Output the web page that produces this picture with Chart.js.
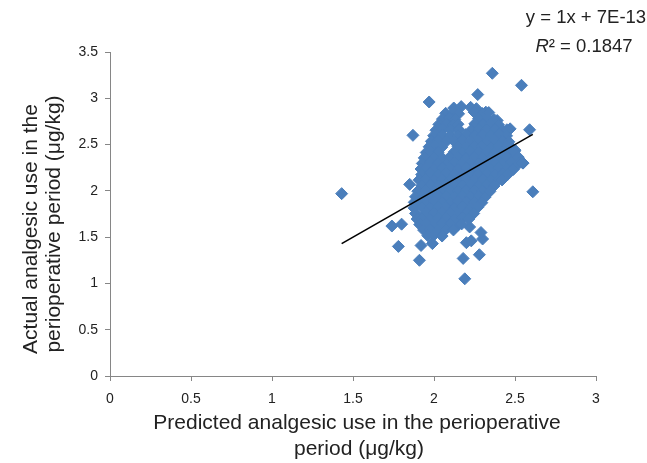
<!DOCTYPE html>
<html>
<head>
<meta charset="utf-8">
<script src="https://cdn.jsdelivr.net/npm/chart.js@4/dist/chart.umd.min.js"></script>
<style>
  html, body { margin: 0; padding: 0; background: #fff; }
  #c { display: block; }
</style>
</head>
<body>
<canvas id="c" width="647" height="463"></canvas>
<script>
// ---------- Datos ----------
// ejes
var xTicks = [0, 0.5, 1, 1.5, 2, 2.5, 3];
var yTicks = [0, 0.5, 1, 1.5, 2, 2.5, 3, 3.5];

// puntos aislados (predicho, real)
var outlierPred = [2.36, 2.54, 2.27, 1.97, 1.87, 1.43, 2.61, 2.59, 2.19, 1.91, 1.78, 1.74, 1.80, 1.92, 1.99, 2.18, 2.28, 2.30, 2.20, 2.23, 2.22, 2.29, 1.85, 1.91, 2.50, 2.47, 2.39, 2.32, 2.55];
var outlierAct  = [3.27, 3.14, 3.04, 2.96, 2.60, 1.97, 1.99, 2.66, 1.05, 1.25, 1.40, 1.62, 1.64, 1.41, 1.43, 1.27, 1.31, 1.48, 1.44, 1.46, 1.61, 1.55, 2.07, 2.12, 2.44, 2.67, 2.76, 2.85, 2.30];

// nube central, parte alta [predicho, real]
var nubeAlta = [
  [2.122,2.895],[2.168,2.91],[2.226,2.902],[2.262,2.888],
  [2.072,2.838],[2.118,2.846],[2.152,2.832],[2.248,2.85],[2.30,2.835],[2.338,2.846],
  [2.052,2.775],[2.098,2.786],[2.128,2.772],[2.275,2.78],[2.327,2.776],[2.372,2.768],
  [2.03,2.718],[2.078,2.726],[2.122,2.712],[2.148,2.72],[2.252,2.724],[2.30,2.716],[2.35,2.722],[2.398,2.714],
  [2.012,2.655],[2.054,2.666],[2.103,2.658],[2.152,2.664],[2.228,2.652],[2.276,2.662],[2.324,2.656],[2.377,2.664],[2.424,2.652],[2.45,2.66],
  [1.998,2.596],[2.052,2.604],[2.10,2.592],[2.148,2.602],[2.196,2.608],[2.252,2.594],[2.30,2.602],[2.35,2.598],[2.402,2.606],[2.448,2.594],
  [1.984,2.535],[2.024,2.546],[2.078,2.538],[2.126,2.532],[2.174,2.546],[2.226,2.538],[2.273,2.542],[2.326,2.532],[2.375,2.546],[2.424,2.536],[2.462,2.53]
];

// nube central, parte media
var nubeMedia = [
  [1.97,2.476],[2.002,2.484],[2.048,2.472],[2.148,2.482],[2.20,2.474],[2.25,2.486],[2.298,2.478],[2.352,2.472],[2.40,2.484],[2.45,2.478],[2.478,2.47],
  [1.952,2.414],[1.978,2.426],[2.026,2.418],[2.126,2.422],[2.174,2.41],[2.224,2.426],[2.276,2.416],[2.326,2.424],[2.373,2.412],[2.424,2.42],[2.476,2.414],[2.496,2.424],
  [1.94,2.356],[2.00,2.362],[2.052,2.352],[2.098,2.366],[2.15,2.358],[2.20,2.35],[2.248,2.364],[2.30,2.356],[2.352,2.362],[2.40,2.35],[2.45,2.36],[2.50,2.354],[2.52,2.364],
  [1.928,2.296],[1.976,2.304],[2.024,2.298],[2.077,2.292],[2.126,2.306],[2.174,2.296],[2.226,2.302],[2.276,2.294],[2.324,2.306],[2.377,2.298],[2.424,2.29],[2.476,2.304],[2.524,2.296],[2.548,2.30],
  [1.92,2.236],[1.952,2.244],[2.00,2.232],[2.05,2.246],[2.10,2.238],[2.148,2.23],[2.20,2.244],[2.25,2.236],[2.302,2.242],[2.35,2.232],[2.40,2.246],[2.448,2.238],[2.49,2.232],
  [1.924,2.176],[1.976,2.184],[2.026,2.172],[2.074,2.186],[2.126,2.178],[2.176,2.17],[2.224,2.184],[2.274,2.176],[2.326,2.182],[2.376,2.172],[2.424,2.186],[2.455,2.178],
  [1.91,2.116],[1.952,2.124],[2.00,2.112],[2.05,2.126],[2.10,2.118],[2.148,2.11],[2.20,2.124],[2.25,2.116],[2.30,2.122],[2.35,2.112],[2.40,2.124],[2.42,2.118]
];

// nube central, parte baja
var nubeBaja = [
  [1.924,2.056],[1.976,2.064],[2.026,2.052],[2.074,2.066],[2.126,2.058],[2.176,2.05],[2.224,2.064],[2.274,2.056],[2.326,2.062],[2.37,2.052],
  [1.90,1.996],[1.952,2.004],[2.00,1.992],[2.05,2.006],[2.10,1.998],[2.148,1.99],[2.20,2.004],[2.25,1.996],[2.30,2.002],[2.345,1.994],
  [1.886,1.936],[1.926,1.944],[1.976,1.932],[2.024,1.946],[2.076,1.938],[2.126,1.93],[2.174,1.944],[2.226,1.936],[2.276,1.942],[2.315,1.932],
  [1.878,1.876],[1.90,1.884],[1.952,1.872],[2.00,1.886],[2.05,1.878],[2.10,1.87],[2.148,1.884],[2.20,1.876],[2.25,1.882],[2.295,1.872],
  [1.876,1.816],[1.926,1.824],[1.974,1.812],[2.026,1.826],[2.076,1.818],[2.124,1.81],[2.176,1.824],[2.226,1.816],[2.27,1.822],
  [1.886,1.756],[1.952,1.764],[2.00,1.752],[2.05,1.766],[2.10,1.758],[2.148,1.75],[2.20,1.764],[2.245,1.756],
  [1.896,1.696],[1.926,1.704],[1.976,1.692],[2.026,1.706],[2.074,1.698],[2.126,1.69],[2.176,1.704],[2.215,1.696],
  [1.912,1.636],[1.952,1.644],[2.00,1.632],[2.05,1.646],[2.10,1.638],[2.148,1.63],[2.17,1.642],
  [1.936,1.576],[1.976,1.584],[2.026,1.572],[2.074,1.586],[2.12,1.578],
  [1.962,1.516],[2.00,1.524],[2.05,1.512]
];

// linea de tendencia: y = 1x + 7E-13 (extremos)
var trendPred = [1.43, 2.61];
var trendAct  = [1.43, 2.61];

var eqTexto = 'y = 1x + 7E-13';
var r2Valor = ' = 0.1847';
var tituloY = ['Actual analgesic use in the', 'perioperative period (\u03bcg/kg)'];
var tituloX = ['Predicted analgesic use in the perioperative', 'period (\u03bcg/kg)'];

// ---------- Armado ----------
var FUENTE = "'Liberation Sans', Arial, sans-serif";
var AZUL = '#4a7ebb';
var GRIS = '#868686';
var TEXTO = '#222';

var puntos = [];
for (var i = 0; i < outlierPred.length; i++) puntos.push({ x: outlierPred[i], y: outlierAct[i] });
[nubeAlta, nubeMedia, nubeBaja].forEach(function (arr) {
  arr.forEach(function (p) { puntos.push({ x: p[0], y: p[1] }); });
});
var tendencia = trendPred.map(function (v, i) { return { x: v, y: trendAct[i] }; });

// textos de ejes y ecuacion
var textosPlugin = {
  id: 'textos',
  afterDraw: function (chart) {
    var ctx = chart.ctx;
    ctx.save();
    ctx.fillStyle = TEXTO;
    ctx.textAlign = 'center';
    ctx.textBaseline = 'alphabetic';
    ctx.font = '21px ' + FUENTE;
    // titulo X
    ctx.fillText(tituloX[0], 357, 429);
    ctx.fillText(tituloX[1], 359, 455);
    // titulo Y (rotado)
    ctx.save();
    ctx.translate(37, 229);
    ctx.rotate(-Math.PI / 2);
    ctx.fillText(tituloY[0], 0, 0);
    ctx.restore();
    ctx.save();
    ctx.translate(60, 224);
    ctx.rotate(-Math.PI / 2);
    ctx.fillText(tituloY[1], 0, 0);
    ctx.restore();
    // ecuacion
    ctx.textBaseline = 'middle';
    ctx.font = '18.5px ' + FUENTE;
    ctx.fillText(eqTexto, 586, 18);
    var wV = ctx.measureText('\u00b2' + r2Valor).width;
    ctx.font = 'italic 18.5px ' + FUENTE;
    var wI = ctx.measureText('R').width;
    var x0 = 584 - (wI + wV) / 2;
    ctx.textAlign = 'left';
    ctx.fillText('R', x0, 47);
    ctx.font = '18.5px ' + FUENTE;
    ctx.fillText('\u00b2' + r2Valor, x0 + wI, 47);
    ctx.restore();
  }
};

new Chart(document.getElementById('c'), {
  type: 'scatter',
  data: {
    datasets: [
      {
        type: 'line',
        label: 'Tendencia',
        data: tendencia,
        borderColor: '#000',
        borderWidth: 1.6,
        pointRadius: 0,
        fill: false,
        order: 0
      },
      {
        label: 'Pacientes',
        data: puntos,
        pointStyle: 'rectRot',
        pointRadius: 6,
        pointBorderWidth: 1,
        backgroundColor: AZUL,
        borderColor: AZUL,
        order: 1
      }
    ]
  },
  options: {
    responsive: false,
    animation: false,
    layout: { padding: { left: 0, top: 52, right: 51, bottom: 0 } },
    plugins: { legend: { display: false }, tooltip: { enabled: false } },
    scales: {
      x: {
        type: 'linear',
        min: 0, max: 3,
        afterBuildTicks: function (s) { s.ticks = xTicks.map(function (v) { return { value: v }; }); },
        afterFit: function (s) { s.height = 87; },
        ticks: {
          color: TEXTO, font: { family: FUENTE, size: 14 }, padding: 10, maxRotation: 0,
          callback: function (v) { return String(v); }
        },
        grid: { drawOnChartArea: false, drawTicks: true, tickLength: 5, color: GRIS },
        border: { display: true, color: GRIS, width: 1 }
      },
      y: {
        type: 'linear',
        min: 0, max: 3.5,
        afterBuildTicks: function (s) { s.ticks = yTicks.map(function (v) { return { value: v }; }); },
        afterFit: function (s) { s.width = 110; },
        ticks: {
          color: TEXTO, font: { family: FUENTE, size: 14 }, padding: 7,
          callback: function (v) { return String(v); }
        },
        grid: { drawOnChartArea: false, drawTicks: true, tickLength: 5, color: GRIS },
        border: { display: true, color: GRIS, width: 1 }
      }
    }
  },
  plugins: [textosPlugin]
});
</script>
</body>
</html>
